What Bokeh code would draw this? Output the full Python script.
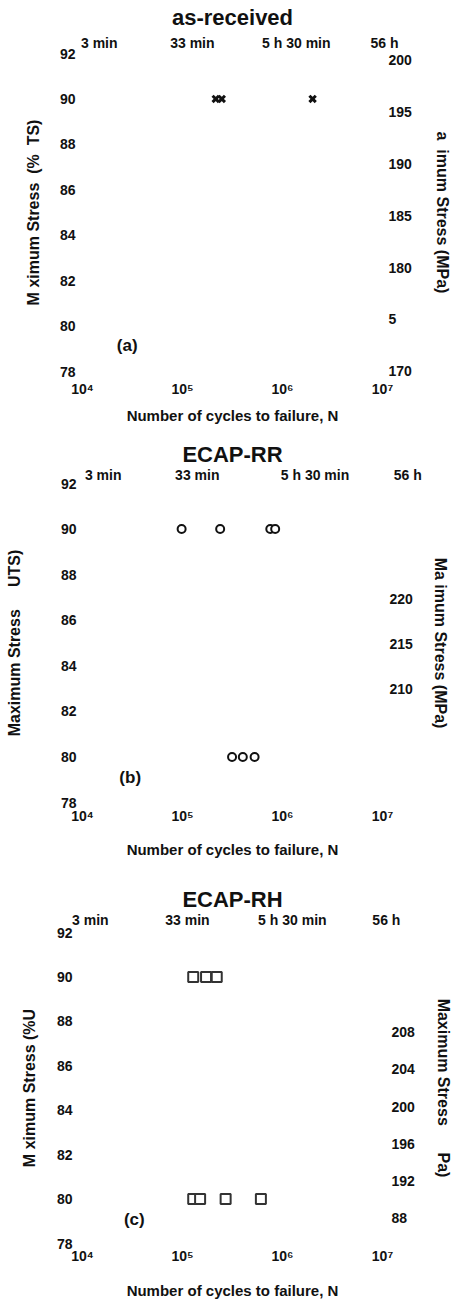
from bokeh.plotting import figure
from bokeh.models import (Range1d, LinearAxis, LogAxis, FixedTicker, Label,
                          CustomJSTickFormatter)
from bokeh.layouts import column
from bokeh.embed import file_html
from bokeh.resources import INLINE

NB = "\u00a0"

# ---------------- data ----------------
cycle_ticks = [1e4, 1e5, 1e6, 1e7]
cycle_tick_labels = ["10\u2074", "10\u2075", "10\u2076", "10\u2077"]
time_tick_labels = ["3 min", "33 min", "5 h 30 min", "56 h"]
pct_ticks = [78, 80, 82, 84, 86, 88, 90, 92]

titles = ["as-received", "ECAP-RR", "ECAP-RH"]
panel_tags = ["(a)", "(b)", "(c)"]
left_labels = ["M ximum Stress" + NB * 2 + "(%" + NB * 2 + "TS)",
               "Maximum Stress" + NB * 5 + "UTS)",
               "M ximum Stress (%U"]
right_labels = ["a" + NB * 2 + "imum Stress (MPa)",
                "Ma imum Stress (MPa)",
                "Maximum Stress" + NB * 6 + "Pa)"]
x_label = "Number of cycles to failure, N"

# right-axis (MPa) ticks and their printed labels
ar_mpa_ticks = [170, 175, 180, 185, 190, 195, 200]
ar_mpa_labels = ["170", "5", "180", "185", "190", "195", "200"]
rr_mpa_ticks = [210, 215, 220]
rr_mpa_labels = ["210", "215", "220"]
rh_mpa_ticks = [188, 192, 196, 200, 204, 208]
rh_mpa_labels = ["88", "192", "196", "200", "204", "208"]

# MPa range matching 78..92 % on each panel
ar_mpa_range = (169.99, 200.6)
rr_mpa_range = (197.4, 232.9)
rh_mpa_range = (185.2, 218.8)

# fatigue points
ar_cycles = [2.15e5, 2.47e5, 2.0e6]
ar_stress = [90, 90, 90]
rr_cycles = [9.8e4, 2.38e5, 7.55e5, 8.45e5, 3.13e5, 4.01e5, 5.26e5]
rr_stress = [90, 90, 90, 90, 80, 80, 80]
rh_cycles = [1.28e5, 1.72e5, 2.2e5, 1.28e5, 1.5e5, 2.7e5, 6.08e5]
rh_stress = [90, 90, 90, 80, 80, 80, 80]

# ---------------- styling ----------------
FONT = "Liberation Sans"
INK = "#111111"
PX_PER_DECADE = 101.5
NBSP_PX = 3.9  # width of a non-breaking space at 14px bold


def style_axis(ax, tick_standoff, label_standoff, label_size="16px"):
    ax.axis_line_color = None
    ax.major_tick_line_color = None
    ax.minor_tick_line_color = None
    ax.major_tick_out = 0
    ax.major_tick_in = 0
    ax.major_label_text_font = FONT
    ax.major_label_text_font_style = "bold"
    ax.major_label_text_font_size = "14px"
    ax.major_label_text_color = INK
    ax.axis_label_text_font = FONT
    ax.axis_label_text_font_style = "bold"
    ax.axis_label_text_font_size = label_size
    ax.axis_label_text_color = INK
    ax.major_label_standoff = tick_standoff
    ax.axis_label_standoff = label_standoff


def make_panel(cfg, title, tag, left_label, right_label,
               mpa_range, mpa_ticks, mpa_labels, xs, ys, marker_kw):
    top, bottom, left, right = cfg["borders"]
    p = figure(width=454, height=cfg["height"], x_axis_type="log",
               x_range=Range1d(1e4, 1e7), y_range=Range1d(78, 92),
               output_backend="svg", toolbar_location=None,
               min_border_top=top, min_border_bottom=bottom,
               min_border_left=left, min_border_right=right)
    p.outline_line_color = None
    p.xgrid.visible = False
    p.ygrid.visible = False
    p.background_fill_color = "white"
    p.border_fill_color = "white"

    # bottom axis
    xa = p.xaxis[0]
    xa.ticker = FixedTicker(ticks=cycle_ticks)
    xa.major_label_overrides = {t: l for t, l in zip(cycle_ticks, cycle_tick_labels)}
    xa.axis_label = x_label
    style_axis(xa, *cfg["bottom_standoffs"], label_size="15px")

    # left axis
    ya = p.yaxis[0]
    ya.ticker = FixedTicker(ticks=pct_ticks)
    ya.axis_label = left_label
    style_axis(ya, *cfg["left_standoffs"])

    # top axis: elapsed-time labels (shifted right as printed), title as its label
    shifted, labels = [], []
    for t, lab, dx in zip(cycle_ticks, time_tick_labels, cfg["time_dx"]):
        s = t * 10 ** (dx / PX_PER_DECADE)
        if s > 1e7:  # cannot place a tick beyond the frame: pad the text instead
            s = 1e7
            lab = NB * int(round(2 * dx / NBSP_PX)) + lab
        shifted.append(s)
        labels.append(lab)
    ta = LogAxis(ticker=FixedTicker(ticks=shifted),
                 formatter=CustomJSTickFormatter(args=dict(labels=labels),
                                                 code="return labels[index]"))
    ta.axis_label = title
    style_axis(ta, *cfg["top_standoffs"], label_size="22px")
    p.add_layout(ta, "above")

    # right axis (MPa)
    p.extra_y_ranges = {"mpa": Range1d(*mpa_range)}
    ra = LinearAxis(y_range_name="mpa", ticker=FixedTicker(ticks=mpa_ticks),
                    major_label_overrides={t: l for t, l in zip(mpa_ticks, mpa_labels)})
    ra.axis_label = right_label
    style_axis(ra, *cfg["right_standoffs"])
    p.add_layout(ra, "right")

    p.scatter(xs, ys, **marker_kw)

    tx, ty = cfg["tag_pos"]
    p.add_layout(Label(x=tx, y=ty, text=tag, text_align="center",
                       text_baseline="middle", text_font=FONT,
                       text_font_style="bold", text_font_size="17px",
                       text_color=INK))
    return p


cfg_a = dict(height=435, borders=(53, 64, 82, 67),
             top_standoffs=(3, 2), bottom_standoffs=(9, 7),
             left_standoffs=(7, 15), right_standoffs=(6, 19),
             time_dx=[17, 10, 14, 2], tag_pos=(2.8e4, 79.15))
cfg_b = dict(height=444, borders=(48, 77, 81, 68),
             top_standoffs=(1, -3), bottom_standoffs=(5, 14),
             left_standoffs=(6, 35), right_standoffs=(7, 16),
             time_dx=[21, 15, 33, 25], tag_pos=(3.0e4, 79.1))
cfg_c = dict(height=422, borders=(53, 57, 82, 66),
             top_standoffs=(5, -3), bottom_standoffs=(4, 15),
             left_standoffs=(10, 16), right_standoffs=(9, 17),
             time_dx=[8, 5, 10, 4], tag_pos=(3.3e4, 79.08))

pa = make_panel(cfg_a, titles[0], panel_tags[0], left_labels[0], right_labels[0],
                ar_mpa_range, ar_mpa_ticks, ar_mpa_labels, ar_cycles, ar_stress,
                dict(marker="x", size=9, line_width=3, line_color=INK))
pb = make_panel(cfg_b, titles[1], panel_tags[1], left_labels[1], right_labels[1],
                rr_mpa_range, rr_mpa_ticks, rr_mpa_labels, rr_cycles, rr_stress,
                dict(marker="circle", size=8, line_width=2, line_color=INK,
                     fill_color="white"))
pc = make_panel(cfg_c, titles[2], panel_tags[2], left_labels[2], right_labels[2],
                rh_mpa_range, rh_mpa_ticks, rh_mpa_labels, rh_cycles, rh_stress,
                dict(marker="square", size=10, line_width=2, line_color="#333333",
                     fill_color="white"))

layout = column(pa, pb, pc, spacing=0)
open("out.html", "w").write(file_html(layout, INLINE))
